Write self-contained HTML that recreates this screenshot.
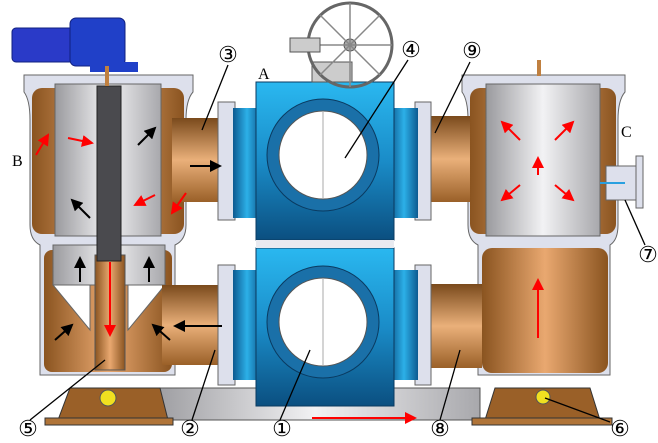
<!DOCTYPE html><html><head><style>body{margin:0;background:#fff}svg{display:block}text{font-family:"Liberation Serif",serif}</style></head><body>
<svg width="658" height="443" viewBox="0 0 658 443" xmlns="http://www.w3.org/2000/svg">
<defs>
<linearGradient id="br" x1="0" x2="1"><stop offset="0" stop-color="#8a5420"/><stop offset=".5" stop-color="#e9a870"/><stop offset="1" stop-color="#8a5420"/></linearGradient>
<linearGradient id="brv" x1="0" y1="0" x2="0" y2="1"><stop offset="0" stop-color="#7a4a1c"/><stop offset=".5" stop-color="#eab07a"/><stop offset="1" stop-color="#9a6028"/></linearGradient>
<linearGradient id="gr" x1="0" x2="1"><stop offset="0" stop-color="#9a9a9e"/><stop offset=".5" stop-color="#f2f2f4"/><stop offset="1" stop-color="#a8a8ac"/></linearGradient>
<linearGradient id="bl" x1="0" y1="0" x2="0" y2="1"><stop offset="0" stop-color="#2ab8f0"/><stop offset=".5" stop-color="#1a8cc8"/><stop offset="1" stop-color="#0b4f80"/></linearGradient>
<linearGradient id="blh" x1="0" x2="1"><stop offset="0" stop-color="#0d5a90"/><stop offset=".5" stop-color="#2cb0e8"/><stop offset="1" stop-color="#0d5a90"/></linearGradient>
<marker id="ar" markerWidth="6" markerHeight="6" refX="5" refY="3" orient="auto"><path d="M0,0L6,3L0,6z" fill="red"/></marker>
<marker id="ak" markerWidth="6" markerHeight="6" refX="5" refY="3" orient="auto"><path d="M0,0L6,3L0,6z" fill="#000"/></marker>
</defs>
<rect x="150" y="388" width="330" height="32" fill="url(#gr)" stroke="#555"/>
<path d="M70,388L160,388L168,420L58,420Z" fill="#9a6028" stroke="#333"/><rect x="45" y="418" width="128" height="7" fill="#b07438" stroke="#333"/>
<path d="M495,388L590,388L600,420L485,420Z" fill="#9a6028" stroke="#333"/><rect x="472" y="418" width="140" height="7" fill="#b07438" stroke="#333"/>
<circle cx="108" cy="398" r="8" fill="#f0e020" stroke="#555"/><circle cx="543" cy="397" r="7" fill="#f0e020" stroke="#555"/>
<path d="M24,75H193V92Q186,100 186,120V225Q186,240 175,245V375H40V245Q30,240 30,225V120Q30,100 24,92Z" fill="#dde0ec" stroke="#666"/>
<rect x="32" y="88" width="152" height="146" rx="10" fill="url(#br)"/>
<rect x="44" y="250" width="128" height="122" rx="8" fill="url(#br)"/>
<rect x="55" y="84" width="106" height="152" fill="url(#gr)" stroke="#666"/>
<rect x="53" y="245" width="112" height="40" fill="url(#gr)" stroke="#666"/>
<path d="M53,285H90L90,330ZM165,285H128L128,330Z" fill="#fff" stroke="#666"/>
<rect x="95" y="255" width="30" height="115" fill="url(#br)" stroke="#555"/>
<rect x="97" y="86" width="24" height="175" fill="#4a4a4e" stroke="#222"/>
<path d="M462,75H625V92Q618,100 618,120V225Q618,240 610,245V375H478V245Q468,240 468,225V120Q468,100 462,92Z" fill="#dde0ec" stroke="#666"/>
<rect x="470" y="88" width="146" height="146" rx="10" fill="url(#br)"/>
<rect x="482" y="248" width="126" height="125" rx="10" fill="url(#br)"/>
<rect x="486" y="84" width="114" height="152" fill="url(#gr)" stroke="#666"/>
<rect x="606" y="166" width="32" height="34" fill="#dde0ec" stroke="#666"/><rect x="636" y="156" width="7" height="52" fill="#dde0ec" stroke="#666"/>
<rect x="537" y="60" width="4" height="16" fill="#c08040"/>
<rect x="172" y="118" width="60" height="84" fill="url(#brv)"/>
<rect x="162" y="285" width="70" height="80" fill="url(#brv)"/>
<rect x="418" y="116" width="52" height="86" fill="url(#brv)"/>
<rect x="418" y="284" width="64" height="84" fill="url(#brv)"/>
<rect x="218" y="102" width="17" height="118" fill="#dde0ec" stroke="#666"/>
<rect x="218" y="265" width="17" height="120" fill="#dde0ec" stroke="#666"/>
<rect x="415" y="102" width="16" height="118" fill="#dde0ec" stroke="#666"/>
<rect x="415" y="265" width="16" height="120" fill="#dde0ec" stroke="#666"/>
<rect x="233" y="108" width="28" height="110" fill="url(#blh)"/><rect x="233" y="270" width="28" height="110" fill="url(#blh)"/>
<rect x="390" y="108" width="28" height="110" fill="url(#blh)"/><rect x="390" y="270" width="28" height="110" fill="url(#blh)"/>
<rect x="256" y="82" width="138" height="158" fill="url(#bl)" stroke="#0a3a60"/>
<rect x="256" y="248" width="138" height="158" fill="url(#bl)" stroke="#0a3a60"/>
<rect x="256" y="240" width="138" height="8" fill="#e8eaf0"/>
<circle cx="323" cy="155" r="56" fill="#1a70a8" stroke="#0a3a60"/><circle cx="323" cy="155" r="44" fill="#fff" stroke="#555"/>
<circle cx="323" cy="322" r="56" fill="#1a70a8" stroke="#0a3a60"/><circle cx="323" cy="322" r="44" fill="#fff" stroke="#555"/>
<line x1="323" y1="112" x2="323" y2="198" stroke="#aaa"/><line x1="323" y1="279" x2="323" y2="365" stroke="#aaa"/>
<rect x="312" y="62" width="40" height="20" fill="#ccc" stroke="#555"/>
<circle cx="350" cy="45" r="42" fill="none" stroke="#666" stroke-width="3"/><circle cx="350" cy="45" r="6" fill="#aaa" stroke="#555"/>
<path d="M350,3V87M308,45H392M320,15L380,75M380,15L320,75" stroke="#888" stroke-width="1.5"/>
<rect x="290" y="38" width="30" height="14" fill="#ccc" stroke="#555"/>
<rect x="12" y="28" width="62" height="34" rx="4" fill="#2a3ac8" stroke="#102080"/>
<rect x="70" y="18" width="55" height="48" rx="6" fill="#2040c8" stroke="#102080"/>
<rect x="90" y="62" width="48" height="10" fill="#2040c8"/><rect x="105" y="66" width="4" height="20" fill="#c08040"/>
<g stroke-width="2" fill="none">
<path d="M110,262V335" stroke="red" marker-end="url(#ar)"/>
<path d="M312,418H415" stroke="red" marker-end="url(#ar)"/>
<path d="M538,338V280" stroke="red" marker-end="url(#ar)"/>
<path d="M36,155L48,135" stroke="red" marker-end="url(#ar)"/>
<path d="M68,138L92,143" stroke="red" marker-end="url(#ar)"/>
<path d="M155,195L135,205" stroke="red" marker-end="url(#ar)"/>
<path d="M186,193L172,213" stroke="red" marker-end="url(#ar)"/>
<path d="M190,166H220" stroke="#000" marker-end="url(#ak)"/>
<path d="M222,326H175" stroke="#000" marker-end="url(#ak)"/>
<path d="M138,145L155,128" stroke="#000" marker-end="url(#ak)"/>
<path d="M90,218L72,200" stroke="#000" marker-end="url(#ak)"/>
<path d="M80,282V258" stroke="#000" marker-end="url(#ak)"/>
<path d="M149,282V258" stroke="#000" marker-end="url(#ak)"/>
<path d="M55,340L72,325" stroke="#000" marker-end="url(#ak)"/>
<path d="M170,340L153,325" stroke="#000" marker-end="url(#ak)"/>
<path d="M520,140L502,122" stroke="red" marker-end="url(#ar)"/>
<path d="M555,140L573,122" stroke="red" marker-end="url(#ar)"/>
<path d="M520,185L502,200" stroke="red" marker-end="url(#ar)"/>
<path d="M555,185L573,200" stroke="red" marker-end="url(#ar)"/>
<path d="M538,175V158" stroke="red" marker-end="url(#ar)"/>
<path d="M600,183H625" stroke="#29a0e0"/>
</g>
<g stroke="#000" stroke-width="1.3">
<line x1="228" y1="65" x2="202" y2="130"/><line x1="408" y1="60" x2="345" y2="158"/>
<line x1="470" y1="62" x2="435" y2="133"/><line x1="625" y1="200" x2="645" y2="245"/>
<line x1="30" y1="420" x2="105" y2="360"/><line x1="192" y1="420" x2="215" y2="350"/>
<line x1="280" y1="420" x2="310" y2="350"/><line x1="440" y1="420" x2="460" y2="350"/>
<line x1="610" y1="422" x2="545" y2="398"/>
</g>
<g font-size="22" text-anchor="middle">
<text x="228" y="62">③</text><text x="411" y="57">④</text><text x="472" y="58">⑨</text>
<text x="648" y="262">⑦</text><text x="28" y="436">⑤</text><text x="190" y="436">②</text>
<text x="282" y="436">①</text><text x="440" y="436">⑧</text><text x="620" y="436">⑥</text>
</g>
<g font-size="16"><text x="258" y="79">A</text><text x="12" y="166">B</text><text x="621" y="137">C</text></g>
</svg></body></html>
